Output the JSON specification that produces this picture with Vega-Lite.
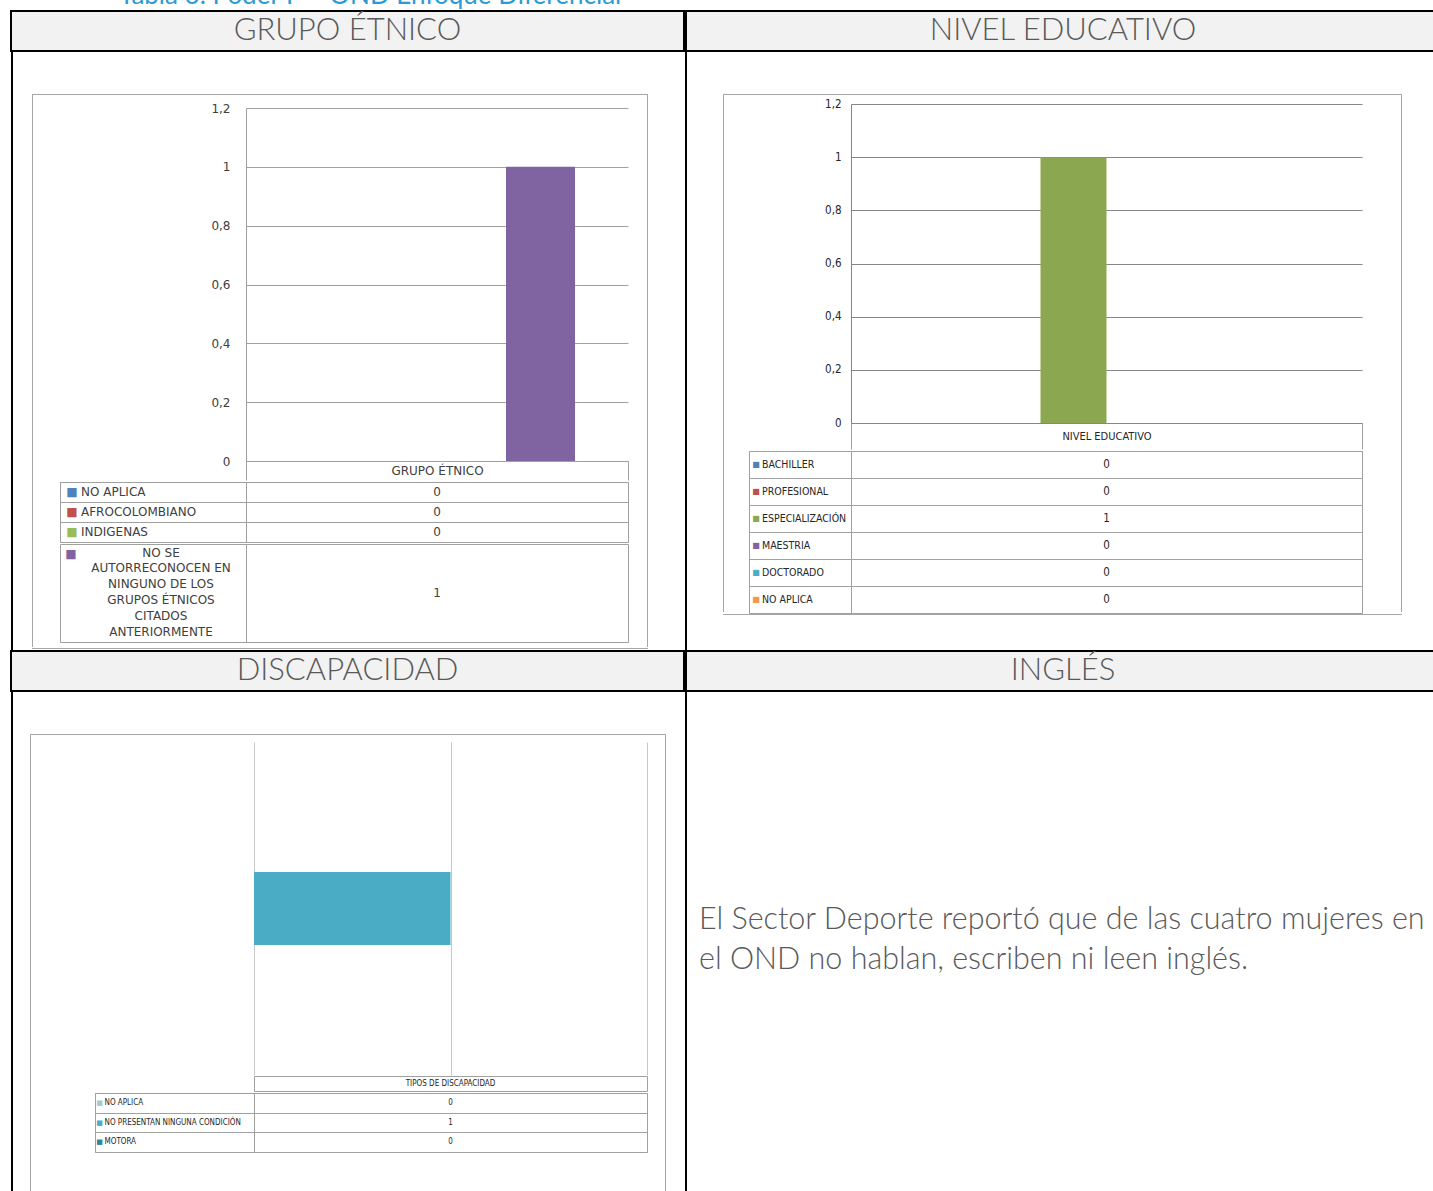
{
"$schema": "https://vega.github.io/schema/vega-lite/v6.json",
"padding": {"left": 10, "top": 0, "right": 0, "bottom": 0},
"background": "white",
"config": {"view": {"stroke": null}, "concat": {"spacing": 0}},
"datasets": {
"etnico": [
{"categoria": "GRUPO ÉTNICO", "serie": "NO APLICA", "etiqueta": "NO APLICA", "valor": 0},
{"categoria": "GRUPO ÉTNICO", "serie": "AFROCOLOMBIANO", "etiqueta": "AFROCOLOMBIANO", "valor": 0},
{"categoria": "GRUPO ÉTNICO", "serie": "INDIGENAS", "etiqueta": "INDIGENAS", "valor": 0},
{"categoria": "GRUPO ÉTNICO", "serie": "NO SE AUTORRECONOCEN EN NINGUNO DE LOS GRUPOS ÉTNICOS CITADOS ANTERIORMENTE", "etiqueta": "NO SE\nAUTORRECONOCEN EN\nNINGUNO DE LOS\nGRUPOS ÉTNICOS\nCITADOS\nANTERIORMENTE", "valor": 1}
],
"educativo": [
{"categoria": "NIVEL EDUCATIVO", "serie": "BACHILLER", "valor": 0},
{"categoria": "NIVEL EDUCATIVO", "serie": "PROFESIONAL", "valor": 0},
{"categoria": "NIVEL EDUCATIVO", "serie": "ESPECIALIZACIÓN", "valor": 1},
{"categoria": "NIVEL EDUCATIVO", "serie": "MAESTRIA", "valor": 0},
{"categoria": "NIVEL EDUCATIVO", "serie": "DOCTORADO", "valor": 0},
{"categoria": "NIVEL EDUCATIVO", "serie": "NO APLICA", "valor": 0}
],
"discapacidad": [
{"categoria": "TIPOS DE DISCAPACIDAD", "serie": "NO APLICA", "valor": 0},
{"categoria": "TIPOS DE DISCAPACIDAD", "serie": "NO PRESENTAN NINGUNA CONDICIÓN", "valor": 1},
{"categoria": "TIPOS DE DISCAPACIDAD", "serie": "MOTORA", "valor": 0}
]
},
"resolve": {"scale": {"color": "independent", "xOffset": "independent", "yOffset": "independent"}},
"vconcat": [
{"width": 1430, "height": 10, "data": {"values": [{"leyenda": "Tabla 6. Poder P – OND Enfoque Diferencial"}]}, "mark": {"type": "text", "clip": true, "align": "left", "baseline": "alphabetic", "dx": -607, "dy": -1, "font": "Lato", "fontSize": 26, "color": "#2a9bd5"}, "encoding": {"text": {"field": "leyenda"}}},
{"hconcat": [
 {"width": 673, "height": 40, "data": {"values": [{"titulo": "GRUPO ÉTNICO"}]}, "mark": {"type": "text", "font": "Lato", "fontWeight": 300, "fontSize": 31, "color": "#595959", "baseline": "middle"}, "encoding": {"text": {"field": "titulo"}}, "view": {"fill": "#f2f2f2", "stroke": "#000000", "strokeWidth": 2}},
 {"width": 754, "height": 40, "data": {"values": [{"titulo": "NIVEL EDUCATIVO"}]}, "mark": {"type": "text", "font": "Lato", "fontWeight": 300, "fontSize": 31, "color": "#595959", "baseline": "middle"}, "encoding": {"text": {"field": "titulo"}}, "view": {"fill": "#f2f2f2", "stroke": "#000000", "strokeWidth": 2}}
]},
{"resolve": {"scale": {"color": "independent", "xOffset": "independent", "yOffset": "independent"}}, "hconcat": [
 {"width": 2, "height": 598, "data": {"values": []}, "mark": "point", "view": {"fill": "#000000", "stroke": null}},
 {"vconcat": [
  {"width": 672, "height": 42, "data": {"values": []}, "mark": "point"},
  {"hconcat": [
   {"width": 19, "height": 554, "data": {"values": []}, "mark": "point"},
   {"vconcat": [
    {"width": 616, "height": 1, "data": {"values": []}, "mark": "point", "view": {"fill": "#a6a6a6", "stroke": null}},
    {"hconcat": [
     {"width": 1, "height": 552, "data": {"values": []}, "mark": "point", "view": {"fill": "#a6a6a6", "stroke": null}},
     {"vconcat": [
      {"width": 614, "height": 7, "data": {"values": []}, "mark": "point"},
      {"bounds": "flush", "hconcat": [
       {"width": 213, "height": 353, "data": {"values": []}, "mark": "point"},
       {"width": 382, "height": 353, "data": {"name": "etnico"}, "mark": {"type": "bar"},
        "encoding": {
         "x": {"field": "categoria", "type": "nominal", "scale": {"paddingInner": 0, "paddingOuter": 0}, "axis": {"orient": "bottom", "title": null, "domain": true, "domainColor": "#a0a0a0", "ticks": true, "tickBand": "extent", "tickSize": 19, "tickColor": "#a0a0a0", "labelPadding": -15, "labelAngle": 0, "labelFont": "DejaVu Sans", "labelFontSize": 12, "labelColor": "#404040"}},
         "xOffset": {"field": "serie", "type": "nominal", "scale": {"domain": ["NO APLICA", "AFROCOLOMBIANO", "INDIGENAS", "NO SE AUTORRECONOCEN EN NINGUNO DE LOS GRUPOS ÉTNICOS CITADOS ANTERIORMENTE"], "paddingInner": 0, "paddingOuter": 0.768}},
         "y": {"field": "valor", "type": "quantitative", "scale": {"domain": [0, 1.2], "nice": false}, "axis": {"values": [0, 0.2, 0.4, 0.6, 0.8, 1, 1.2], "title": null, "grid": true, "gridColor": "#a0a0a0", "domainColor": "#a0a0a0", "ticks": false, "labelPadding": 16, "labelFont": "DejaVu Sans", "labelFontSize": 12, "labelColor": "#404040", "labelExpr": "replace(format(datum.value, '~g'), '.', ',')"}},
         "color": {"field": "serie", "type": "nominal", "scale": {"domain": ["NO APLICA", "AFROCOLOMBIANO", "INDIGENAS", "NO SE AUTORRECONOCEN EN NINGUNO DE LOS GRUPOS ÉTNICOS CITADOS ANTERIORMENTE"], "range": ["#4f81bd", "#c0504d", "#9bbb59", "#8064a2"]}, "legend": null}
        }}
      ]},
      {"bounds": "flush", "hconcat": [
       {"width": 27, "height": 60, "data": {"values": []}, "mark": "point"},
       {"width": 186, "height": 60, "data": {"name": "etnico"}, "transform": [{"filter": {"field": "serie", "oneOf": ["NO APLICA", "AFROCOLOMBIANO", "INDIGENAS"]}}], "view": {"stroke": "#a0a0a0"},
        "encoding": {"y": {"field": "serie", "type": "nominal", "sort": ["NO APLICA", "AFROCOLOMBIANO", "INDIGENAS"], "scale": {"type": "band", "paddingInner": 0, "paddingOuter": 0}, "axis": {"title": null, "labels": false, "ticks": false, "domain": false, "grid": true, "tickBand": "extent", "gridColor": "#a0a0a0"}}},
        "layer": [
         {"mark": {"type": "text", "text": "■", "font": "DejaVu Sans", "fontSize": 12, "dx": -81}, "encoding": {"color": {"field": "serie", "type": "nominal", "scale": {"domain": ["NO APLICA", "AFROCOLOMBIANO", "INDIGENAS", "NO SE AUTORRECONOCEN EN NINGUNO DE LOS GRUPOS ÉTNICOS CITADOS ANTERIORMENTE"], "range": ["#4f81bd", "#c0504d", "#9bbb59", "#8064a2"]}, "legend": null}}},
         {"mark": {"type": "text", "align": "left", "dx": -72, "font": "DejaVu Sans", "fontSize": 12, "color": "#404040"}, "encoding": {"text": {"field": "etiqueta"}}}
        ]},
       {"width": 382, "height": 60, "data": {"name": "etnico"}, "transform": [{"filter": {"field": "serie", "oneOf": ["NO APLICA", "AFROCOLOMBIANO", "INDIGENAS"]}}], "view": {"stroke": "#a0a0a0"},
        "mark": {"type": "text", "font": "DejaVu Sans", "fontSize": 12, "color": "#404040"},
        "encoding": {"y": {"field": "serie", "type": "nominal", "sort": ["NO APLICA", "AFROCOLOMBIANO", "INDIGENAS"], "scale": {"type": "band", "paddingInner": 0, "paddingOuter": 0}, "axis": {"title": null, "labels": false, "ticks": false, "domain": false, "grid": true, "tickBand": "extent", "gridColor": "#a0a0a0"}}, "text": {"field": "valor"}}}
      ]},
      {"bounds": "flush", "hconcat": [
       {"width": 27, "height": 98, "data": {"values": []}, "mark": "point"},
       {"width": 186, "height": 98, "data": {"name": "etnico"}, "transform": [{"filter": {"field": "valor", "equal": 1}}], "view": {"stroke": "#a0a0a0"},
        "layer": [
         {"mark": {"type": "text", "text": "■", "font": "DejaVu Sans", "fontSize": 12, "dx": -82, "dy": -39}, "encoding": {"color": {"field": "serie", "type": "nominal", "scale": {"domain": ["NO APLICA", "AFROCOLOMBIANO", "INDIGENAS", "NO SE AUTORRECONOCEN EN NINGUNO DE LOS GRUPOS ÉTNICOS CITADOS ANTERIORMENTE"], "range": ["#4f81bd", "#c0504d", "#9bbb59", "#8064a2"]}, "legend": null}}},
         {"mark": {"type": "text", "align": "center", "baseline": "middle", "dx": 8, "dy": -40.5, "lineBreak": "\n", "lineHeight": 15.8, "font": "DejaVu Sans", "fontSize": 12, "color": "#404040"}, "encoding": {"text": {"field": "etiqueta"}}}
        ]},
       {"width": 382, "height": 98, "data": {"name": "etnico"}, "transform": [{"filter": {"field": "valor", "equal": 1}}], "view": {"stroke": "#a0a0a0"},
        "mark": {"type": "text", "font": "DejaVu Sans", "fontSize": 12, "color": "#404040"}, "encoding": {"text": {"field": "valor"}}}
      ]},
      {"width": 614, "height": 5, "data": {"values": []}, "mark": "point"}
     ]},
     {"width": 1, "height": 552, "data": {"values": []}, "mark": "point", "view": {"fill": "#a6a6a6", "stroke": null}}
    ]},
    {"width": 616, "height": 1, "data": {"values": []}, "mark": "point", "view": {"fill": "#a6a6a6", "stroke": null}}
   ]}
  ]}
 ]},
 {"width": 2, "height": 598, "data": {"values": []}, "mark": "point", "view": {"fill": "#000000", "stroke": null}},
 {"vconcat": [
  {"width": 754, "height": 42, "data": {"values": []}, "mark": "point"},
  {"hconcat": [
   {"width": 36, "height": 519, "data": {"values": []}, "mark": "point"},
   {"vconcat": [
    {"width": 679, "height": 1, "data": {"values": []}, "mark": "point", "view": {"fill": "#a6a6a6", "stroke": null}},
    {"hconcat": [
     {"width": 1, "height": 517, "data": {"values": []}, "mark": "point", "view": {"fill": "#a6a6a6", "stroke": null}},
     {"vconcat": [
      {"width": 677, "height": 3, "data": {"values": []}, "mark": "point"},
      {"bounds": "flush", "hconcat": [
       {"width": 127, "height": 319, "data": {"values": []}, "mark": "point"},
       {"width": 511, "height": 319, "data": {"name": "educativo"}, "mark": {"type": "bar"},
        "encoding": {
         "x": {"field": "categoria", "type": "nominal", "scale": {"paddingInner": 0, "paddingOuter": 0}, "axis": {"orient": "bottom", "title": null, "domain": true, "domainColor": "#868686", "ticks": true, "tickBand": "extent", "tickSize": 26, "tickColor": "#a0a0a0", "labelPadding": -19, "labelAngle": 0, "labelFont": "DejaVu Sans Condensed, Roboto, sans-serif", "labelFontSize": 11, "labelColor": "#262626"}},
         "xOffset": {"field": "serie", "type": "nominal", "scale": {"domain": ["BACHILLER", "PROFESIONAL", "ESPECIALIZACIÓN", "MAESTRIA", "DOCTORADO", "NO APLICA"], "paddingInner": 0, "paddingOuter": 0.871}},
         "y": {"field": "valor", "type": "quantitative", "scale": {"domain": [0, 1.2], "nice": false}, "axis": {"values": [0, 0.2, 0.4, 0.6, 0.8, 1, 1.2], "title": null, "grid": true, "gridColor": "#868686", "domainColor": "#868686", "ticks": false, "labelPadding": 10, "labelFont": "DejaVu Sans Condensed, Roboto, sans-serif", "labelFontSize": 11.5, "labelColor": "#262626", "labelExpr": "replace(format(datum.value, '~g'), '.', ',')"}},
         "color": {"field": "serie", "type": "nominal", "scale": {"domain": ["BACHILLER", "PROFESIONAL", "ESPECIALIZACIÓN", "MAESTRIA", "DOCTORADO", "NO APLICA"], "range": ["#4f81bd", "#c0504d", "#8ba74f", "#8064a2", "#4bacc6", "#f79646"]}, "legend": null}
        }}
      ]},
      {"bounds": "flush", "hconcat": [
       {"width": 25, "height": 162, "data": {"values": []}, "mark": "point"},
       {"width": 102, "height": 162, "data": {"name": "educativo"}, "view": {"stroke": "#a0a0a0"},
        "encoding": {"y": {"field": "serie", "type": "nominal", "sort": ["BACHILLER", "PROFESIONAL", "ESPECIALIZACIÓN", "MAESTRIA", "DOCTORADO", "NO APLICA"], "scale": {"type": "band", "paddingInner": 0, "paddingOuter": 0}, "axis": {"title": null, "labels": false, "ticks": false, "domain": false, "grid": true, "tickBand": "extent", "gridColor": "#a0a0a0"}}},
        "layer": [
         {"mark": {"type": "text", "text": "■", "font": "DejaVu Sans", "fontSize": 8, "dx": -44}, "encoding": {"color": {"field": "serie", "type": "nominal", "scale": {"domain": ["BACHILLER", "PROFESIONAL", "ESPECIALIZACIÓN", "MAESTRIA", "DOCTORADO", "NO APLICA"], "range": ["#4f81bd", "#c0504d", "#8ba74f", "#8064a2", "#4bacc6", "#f79646"]}, "legend": null}}},
         {"mark": {"type": "text", "align": "left", "dx": -38, "font": "DejaVu Sans Condensed, Roboto, sans-serif", "fontSize": 10.5, "color": "#262626"}, "encoding": {"text": {"field": "serie"}}}
        ]},
       {"width": 511, "height": 162, "data": {"name": "educativo"}, "view": {"stroke": "#a0a0a0"},
        "mark": {"type": "text", "font": "DejaVu Sans Condensed, Roboto, sans-serif", "fontSize": 11.5, "color": "#262626"},
        "encoding": {"y": {"field": "serie", "type": "nominal", "sort": ["BACHILLER", "PROFESIONAL", "ESPECIALIZACIÓN", "MAESTRIA", "DOCTORADO", "NO APLICA"], "scale": {"type": "band", "paddingInner": 0, "paddingOuter": 0}, "axis": {"title": null, "labels": false, "ticks": false, "domain": false, "grid": true, "tickBand": "extent", "gridColor": "#a0a0a0"}}, "text": {"field": "valor"}}}
      ]}
     ]},
     {"width": 1, "height": 517, "data": {"values": []}, "mark": "point", "view": {"fill": "#a6a6a6", "stroke": null}}
    ]},
    {"width": 679, "height": 1, "data": {"values": []}, "mark": "point", "view": {"fill": "#a6a6a6", "stroke": null}}
   ]}
  ]},
  {"width": 754, "height": 34, "data": {"values": []}, "mark": "point"}
 ]}
]},
{"hconcat": [
 {"width": 673, "height": 40, "data": {"values": [{"titulo": "DISCAPACIDAD"}]}, "mark": {"type": "text", "font": "Lato", "fontWeight": 300, "fontSize": 31, "color": "#595959", "baseline": "middle"}, "encoding": {"text": {"field": "titulo"}}, "view": {"fill": "#f2f2f2", "stroke": "#000000", "strokeWidth": 2}},
 {"width": 754, "height": 40, "data": {"values": [{"titulo": "INGLÉS"}]}, "mark": {"type": "text", "font": "Lato", "fontWeight": 300, "fontSize": 31, "color": "#595959", "baseline": "middle"}, "encoding": {"text": {"field": "titulo"}}, "view": {"fill": "#f2f2f2", "stroke": "#000000", "strokeWidth": 2}}
]},
{"resolve": {"scale": {"color": "independent", "xOffset": "independent", "yOffset": "independent"}}, "hconcat": [
 {"width": 2, "height": 540, "data": {"values": []}, "mark": "point", "view": {"fill": "#000000", "stroke": null}},
 {"vconcat": [
  {"width": 672, "height": 42, "data": {"values": []}, "mark": "point"},
  {"hconcat": [
   {"width": 17, "height": 498, "data": {"values": []}, "mark": "point"},
   {"vconcat": [
    {"width": 636, "height": 1, "data": {"values": []}, "mark": "point", "view": {"fill": "#a6a6a6", "stroke": null}},
    {"hconcat": [
     {"width": 1, "height": 496, "data": {"values": []}, "mark": "point", "view": {"fill": "#a6a6a6", "stroke": null}},
     {"vconcat": [
      {"width": 634, "height": 7, "data": {"values": []}, "mark": "point"},
      {"bounds": "flush", "hconcat": [
       {"width": 223, "height": 333, "data": {"values": []}, "mark": "point"},
       {"width": 393, "height": 333, "data": {"name": "discapacidad"}, "mark": {"type": "bar"},
        "encoding": {
         "y": {"field": "categoria", "type": "nominal", "axis": null, "scale": {"paddingInner": 0, "paddingOuter": 0}},
         "yOffset": {"field": "serie", "type": "nominal", "scale": {"domain": ["MOTORA", "NO PRESENTAN NINGUNA CONDICIÓN", "NO APLICA"], "paddingInner": 0, "paddingOuter": 0.781}},
         "x": {"field": "valor", "type": "quantitative", "scale": {"domain": [0, 2], "nice": false}, "axis": {"values": [0, 1, 2], "grid": true, "gridColor": "#c8c8c8", "labels": false, "ticks": false, "domain": false, "title": null}},
         "color": {"field": "serie", "type": "nominal", "scale": {"domain": ["NO APLICA", "NO PRESENTAN NINGUNA CONDICIÓN", "MOTORA"], "range": ["#9dcbd9", "#4bacc6", "#31859c"]}, "legend": null}
        }}
      ]},
      {"bounds": "flush", "hconcat": [
       {"width": 223, "height": 15, "data": {"values": []}, "mark": "point"},
       {"width": 393, "height": 15, "data": {"name": "discapacidad"}, "transform": [{"aggregate": [{"op": "count", "as": "n"}], "groupby": ["categoria"]}], "mark": {"type": "text", "font": "DejaVu Sans Condensed, Roboto, sans-serif", "fontSize": 8, "color": "#262626"}, "encoding": {"text": {"field": "categoria"}}, "view": {"stroke": "#a0a0a0"}}
      ]},
      {"bounds": "flush", "hconcat": [
       {"width": 64, "height": 59, "data": {"values": []}, "mark": "point"},
       {"width": 159, "height": 59, "data": {"name": "discapacidad"}, "view": {"stroke": "#a0a0a0"},
        "encoding": {"y": {"field": "serie", "type": "nominal", "sort": ["NO APLICA", "NO PRESENTAN NINGUNA CONDICIÓN", "MOTORA"], "scale": {"type": "band", "paddingInner": 0, "paddingOuter": 0}, "axis": {"title": null, "labels": false, "ticks": false, "domain": false, "grid": true, "tickBand": "extent", "gridColor": "#a0a0a0"}}},
        "layer": [
         {"mark": {"type": "text", "text": "■", "font": "DejaVu Sans", "fontSize": 7, "dx": -75}, "encoding": {"color": {"field": "serie", "type": "nominal", "scale": {"domain": ["NO APLICA", "NO PRESENTAN NINGUNA CONDICIÓN", "MOTORA"], "range": ["#9dcbd9", "#4bacc6", "#31859c"]}, "legend": null}}},
         {"mark": {"type": "text", "align": "left", "dx": -70, "font": "DejaVu Sans Condensed, Roboto, sans-serif", "fontSize": 8, "color": "#262626"}, "encoding": {"text": {"field": "serie"}}}
        ]},
       {"width": 393, "height": 59, "data": {"name": "discapacidad"}, "view": {"stroke": "#a0a0a0"},
        "mark": {"type": "text", "font": "DejaVu Sans Condensed, Roboto, sans-serif", "fontSize": 8, "color": "#262626"},
        "encoding": {"y": {"field": "serie", "type": "nominal", "sort": ["NO APLICA", "NO PRESENTAN NINGUNA CONDICIÓN", "MOTORA"], "scale": {"type": "band", "paddingInner": 0, "paddingOuter": 0}, "axis": {"title": null, "labels": false, "ticks": false, "domain": false, "grid": true, "tickBand": "extent", "gridColor": "#a0a0a0"}}, "text": {"field": "valor"}}}
      ]}
     ]},
     {"width": 1, "height": 496, "data": {"values": []}, "mark": "point", "view": {"fill": "#a6a6a6", "stroke": null}}
    ]},
    {"width": 636, "height": 1, "data": {"values": []}, "mark": "point", "view": {"fill": "#a6a6a6", "stroke": null}}
   ]}
  ]}
 ]},
 {"width": 2, "height": 540, "data": {"values": []}, "mark": "point", "view": {"fill": "#000000", "stroke": null}},
 {"width": 754, "height": 540, "data": {"values": [{"texto": "El Sector Deporte reportó que de las cuatro mujeres en\nel OND no hablan, escriben ni leen inglés."}]}, "mark": {"type": "text", "align": "left", "baseline": "middle", "lineBreak": "\n", "lineHeight": 40, "dx": -365, "dy": -42, "font": "Lato", "fontWeight": 300, "fontSize": 30.5, "color": "#595959"}, "encoding": {"text": {"field": "texto"}}}
]}
]
}
